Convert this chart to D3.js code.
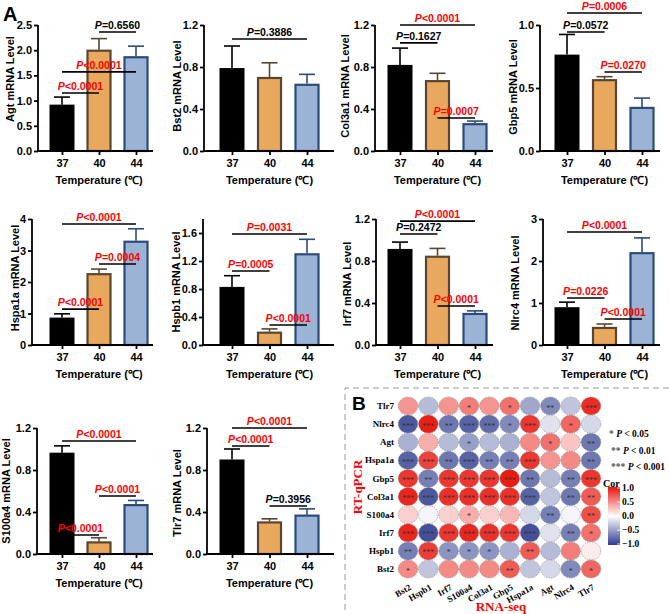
<!DOCTYPE html>
<html><head><meta charset="utf-8">
<script src="https://cdn.jsdelivr.net/npm/d3@7"></script>
<style>body{margin:0;background:#fff}svg{display:block}</style>
</head><body>
<svg id="c" width="669" height="614"></svg>
<script>
// ---------- DATA ----------
const temps = ["37", "40", "44"];
const genes = ["Agt","Bst2","Col3a1","Gbp5","Hspa1a","Hspb1","Irf7","Nlrc4","S100a4","Tlr7"];
const means = [
  [0.92, 2.01, 1.88],
  [0.79, 0.705, 0.64],
  [0.82, 0.675, 0.265],
  [0.765, 0.57, 0.35],
  [0.87, 2.28, 3.31],
  [0.83, 0.19, 1.31],
  [0.915, 0.85, 0.305],
  [0.9, 0.43, 2.21],
  [0.965, 0.12, 0.475],
  [0.9, 0.31, 0.375]
];
const errors = [
  [0.15, 0.22, 0.2],
  [0.21, 0.135, 0.09],
  [0.16, 0.065, 0.02],
  [0.16, 0.02, 0.07],
  [0.12, 0.13, 0.38],
  [0.16, 0.04, 0.2],
  [0.065, 0.07, 0.02],
  [0.12, 0.07, 0.34],
  [0.065, 0.035, 0.035],
  [0.1, 0.025, 0.055]
];
const yMax = [2.5, 1.2, 1.2, 1.0, 4, 1.8, 1.2, 3, 1.2, 1.2];
const yStep = [0.5, 0.4, 0.4, 0.5, 1, 0.4, 0.4, 1, 0.4, 0.4];
const yTickTop = [2.5, 1.2, 1.2, 1.0, 4, 1.6, 1.2, 3, 1.2, 1.2];
const yDecimals = [1, 1, 1, 1, 0, 1, 1, 0, 1, 1];
// comparisons: [from, to, text, significant, bracket height]
const comparisons = [
  [[1,2,"=0.6560",0,2.36],[0,2,"<0.0001",1,1.57],[0,1,"<0.0001",1,1.15]],
  [[0,2,"=0.3886",0,1.067]],
  [[0,2,"<0.0001",1,1.2],[0,1,"=0.1627",0,1.03],[1,2,"=0.0007",1,0.314]],
  [[0,2,"=0.0006",1,1.095],[0,1,"=0.0572",0,0.944],[1,2,"=0.0270",1,0.627]],
  [[0,2,"<0.0001",1,3.84],[1,2,"=0.0004",1,2.57],[0,1,"<0.0001",1,1.14]],
  [[0,2,"=0.0031",1,1.586],[0,1,"=0.0005",1,1.057],[1,2,"<0.0001",1,0.286]],
  [[0,2,"<0.0001",1,1.18],[0,1,"=0.2472",0,1.057],[1,2,"<0.0001",1,0.371]],
  [[0,2,"<0.0001",1,2.69],[0,1,"=0.0226",1,1.12],[1,2,"<0.0001",1,0.62]],
  [[0,2,"<0.0001",1,1.076],[1,2,"<0.0001",1,0.552],[0,1,"<0.0001",1,0.181]],
  [[0,2,"<0.0001",1,1.2],[0,1,"<0.0001",1,1.029],[1,2,"=0.3956",0,0.457]]
];

// Correlation matrix (panel B)
const rowGenes = ["Tlr7","Nlrc4","Agt","Hspa1a","Gbp5","Col3a1","S100a4","Irf7","Hspb1","Bst2"];
const colGenes = ["Bst2","Hspb1","Irf7","S100a4","Col3a1","Gbp5","Hspa1a","Agt","Nlrc4","Tlr7"];
const corr = [
  [0.45,-0.35,0.45,0.55,0.45,0.6,-0.45,-0.6,-0.3,0.9],
  [-0.85,0.95,-0.7,-0.8,-0.75,-0.6,0.85,-0.15,0.65,-0.2],
  [-0.4,0.35,-0.35,-0.5,-0.35,-0.4,0.5,0.6,0.25,-0.7],
  [-0.8,0.8,-0.7,-0.8,-0.65,-0.65,0.85,0.45,0.5,-0.7],
  [0.85,-0.65,0.85,0.85,0.85,0.97,-0.7,-0.35,-0.65,0.85],
  [0.92,-0.85,0.88,0.88,0.88,0.88,-0.8,-0.3,-0.7,0.7],
  [0.2,-0.05,0.2,0.35,0.2,0.3,-0.2,-0.65,-0.05,0.75],
  [0.92,-0.9,0.85,0.92,0.88,0.85,-0.9,-0.15,-0.65,0.6],
  [-0.65,0.82,-0.55,-0.55,-0.55,-0.4,0.7,-0.35,0.55,0.08],
  [0.5,-0.3,0.5,0.5,0.5,0.7,-0.3,-0.2,-0.6,0.65]
];
const stars = [
  ["","","","*","","*","","**","","***"],
  ["***","***","**","***","***","*","***","","*",""],
  ["","","","*","","","","*","","**"],
  ["***","***","**","***","**","**","***","","","**"],
  ["***","**","***","***","***","***","**","","**","***"],
  ["***","***","***","***","***","***","***","","**","**"],
  ["","","","*","","","","**","","**"],
  ["***","***","***","***","***","***","***","","**","*"],
  ["**","***","*","*","*","","**","","",""],
  ["*","","","","","**","","","*","*"]
];
const sigLegend = [["*","0.05"],["**","0.01"],["***","0.001"]];
const corTicks = [1.0, 0.5, 0.0, -0.5, -1.0];

// ---------- LAYOUT ----------
const svg = d3.select("#c");
const SANS = "'Liberation Sans', Arial, sans-serif";
const SERIF = "'Liberation Serif', 'Times New Roman', serif";
const axisXs = [38, 204, 375, 540, 32, 203, 376, 543, 37, 207];
const colCenters = [[62,136],[232,307],[400,475],[567,642]];
const colEnds = [153, 334, 493, 660];
const rowTop = [25, 219, 428];
const rowBase = [151, 345, 554];
const yLabelX = [10, 177, 345, 513, 15, 176, 347, 515, 6, 177];
const yLabelShift = [-9, -2, -2, -1, -4, 0, 2, 1, 0, 2];
const barFill = ["#000000", "#E8A85E", "#9BB4D6"];
const barStroke = ["#000000", "#5A4630", "#2B4B7C"];

svg.append("text").attr("x", 3).attr("y", 21).attr("font-family", SANS)
  .attr("font-weight", "bold").attr("font-size", 20).text("A");

genes.forEach((g, i) => {
  const col = i % 4, row = Math.floor(i / 4);
  const y0 = rowBase[row], yT = rowTop[row];
  const ax = axisXs[i];
  const x = d3.scalePoint().domain(temps).range(colCenters[col]);
  const y = d3.scaleLinear().domain([0, yMax[i]]).range([y0, yT]);
  const G = svg.append("g");

  temps.forEach((t, k) => {
    const cx = x(t), v = means[i][k], e = errors[i][k];
    G.append("line").attr("x1", cx).attr("x2", cx).attr("y1", y(v)).attr("y2", y(v + e))
      .attr("stroke", barStroke[k]).attr("stroke-width", 1.6);
    G.append("line").attr("x1", cx - 8).attr("x2", cx + 8).attr("y1", y(v + e)).attr("y2", y(v + e))
      .attr("stroke", barStroke[k]).attr("stroke-width", 1.6);
    if (k === 0) {
      G.append("rect").attr("x", cx - 12.5).attr("width", 25).attr("y", y(v)).attr("height", y0 - y(v))
        .attr("fill", barFill[k]);
    } else {
      G.append("rect").attr("x", cx - 11.5).attr("width", 23).attr("y", y(v) + 1).attr("height", Math.max(0, y0 - y(v) - 1))
        .attr("fill", barFill[k]).attr("stroke", barStroke[k]).attr("stroke-width", 2.2);
    }
  });

  const ticks = d3.range(0, yTickTop[i] + 1e-9, yStep[i]);
  const yAxis = d3.axisLeft(y).tickValues(ticks).tickSize(4).tickSizeOuter(0).tickPadding(2)
    .tickFormat(d3.format("." + yDecimals[i] + "f"));
  const ga = G.append("g").attr("transform", `translate(${ax},0)`).call(yAxis);
  ga.select(".domain").attr("stroke-width", 1.8).attr("d", `M0,${y0}V${yT}`);
  ga.selectAll(".tick line").attr("stroke-width", 1.8);
  ga.selectAll(".tick text").attr("font-family", SANS).attr("font-weight", "bold").attr("font-size", 11).attr("fill", "#000");

  const xAxis = d3.axisBottom(x).tickSize(4).tickSizeOuter(0).tickPadding(4);
  const gx = G.append("g").attr("transform", `translate(0,${y0})`).call(xAxis);
  gx.select(".domain").remove();
  gx.selectAll(".tick line").attr("stroke-width", 1.8);
  gx.selectAll(".tick text").attr("font-family", SANS).attr("font-weight", "bold").attr("font-size", 11).attr("fill", "#000");
  G.append("line").attr("x1", ax - 0.9).attr("x2", colEnds[col]).attr("y1", y0).attr("y2", y0)
    .attr("stroke", "#000").attr("stroke-width", 1.8);

  G.append("text").attr("x", (colCenters[col][0] + colCenters[col][1]) / 2).attr("y", y0 + 33)
    .attr("text-anchor", "middle").attr("font-family", SANS).attr("font-weight", "bold").attr("font-size", 11)
    .text("Temperature (\u2103)");
  G.append("text").attr("transform", `translate(${yLabelX[i]},${(y0 + yT) / 2 + yLabelShift[i]}) rotate(-90)`)
    .attr("text-anchor", "middle").attr("dy", "0.35em").attr("font-family", SANS).attr("font-weight", "bold")
    .attr("font-size", 11).text(g + " mRNA Level");

  comparisons[i].forEach(c => {
    const [a, b, txt, sig, h] = c;
    const x1 = x(temps[a]), x2 = x(temps[b]), yy = y(h);
    G.append("line").attr("x1", x1).attr("x2", x2).attr("y1", yy).attr("y2", yy)
      .attr("stroke", "#000").attr("stroke-width", 1.6);
    const t = G.append("text").attr("x", (x1 + x2) / 2).attr("y", yy - 3).attr("text-anchor", "middle")
      .attr("font-family", SANS).attr("font-weight", "bold").attr("font-size", 10.5)
      .attr("fill", sig ? "#FF0000" : "#000");
    t.append("tspan").attr("font-style", "italic").text("P");
    t.append("tspan").text(txt);
  });
});

// ---------- PANEL B ----------
const B = svg.append("g");
B.append("path").attr("d", "M345,620V388H669")
  .attr("fill", "none").attr("stroke", "#9a9a9a").attr("stroke-width", 1).attr("stroke-dasharray", "6,4");
B.append("text").attr("x", 352).attr("y", 410).attr("font-family", SANS).attr("font-weight", "bold")
  .attr("font-size", 19).text("B");

const cx = d3.scalePoint().domain(colGenes).range([408, 591]);
const cy = d3.scalePoint().domain(rowGenes).range([406, 569]);
const color = d3.scaleLinear().domain([-1, 0, 1]).range(["#2E3C8E", "#FFFFFF", "#E8140C"]).interpolate(d3.interpolateRgb);

rowGenes.forEach((rg, r) => {
  colGenes.forEach((cg, c) => {
    B.append("ellipse").attr("cx", cx(cg)).attr("cy", cy(rg)).attr("rx", 9.8).attr("ry", 9.0)
      .attr("fill", color(corr[r][c])).attr("stroke", "#808080").attr("stroke-width", 0.6)
      .attr("stroke-dasharray", "1.5,1");
    if (stars[r][c]) {
      B.append("text").attr("x", cx(cg)).attr("y", cy(rg) + 4.6).attr("text-anchor", "middle")
        .attr("font-family", SERIF).attr("font-size", 8).attr("fill", "#333").text(stars[r][c]);
    }
  });
  B.append("text").attr("x", 394).attr("y", cy(rg)).attr("dy", "0.35em").attr("text-anchor", "end")
    .attr("font-family", SERIF).attr("font-weight", "bold").attr("font-size", 9).text(rg);
});
colGenes.forEach(cg => {
  B.append("text").attr("transform", `translate(${cx(cg) + 4},${589}) rotate(-30)`).attr("text-anchor", "end")
    .attr("font-family", SERIF).attr("font-weight", "bold").attr("font-size", 9).text(cg);
});
B.append("text").attr("x", 501).attr("y", 611).attr("text-anchor", "middle").attr("font-family", SERIF)
  .attr("font-weight", "bold").attr("font-size", 13).attr("fill", "#FF0000").text("RNA-seq");
B.append("text").attr("transform", "translate(357,487) rotate(-90)").attr("dy", "0.35em").attr("text-anchor", "middle")
  .attr("font-family", SERIF).attr("font-weight", "bold").attr("font-size", 13).attr("fill", "#FF0000").text("RT-qPCR");

sigLegend.forEach((s, k) => {
  const t = B.append("text").attr("x", 609 + (k === 0 ? 0 : 2)).attr("y", 437 + k * 16.5)
    .attr("font-family", SERIF).attr("font-weight", "bold").attr("font-size", 9.5);
  t.append("tspan").attr("fill", "#555").text(s[0] + " ");
  t.append("tspan").attr("font-style", "italic").text("P");
  t.append("tspan").text(" < " + s[1]);
});

const cbY = d3.scaleLinear().domain([1, -1]).range([488, 544]);
const defs = svg.append("defs");
const grad = defs.append("linearGradient").attr("id", "cg").attr("x1", 0).attr("x2", 0).attr("y1", 0).attr("y2", 1);
d3.range(0, 1.0001, 0.1).forEach(o => {
  grad.append("stop").attr("offset", o).attr("stop-color", color(1 - 2 * o));
});
B.append("rect").attr("x", 608).attr("y", cbY(1) - 1).attr("width", 12).attr("height", cbY(-1) - cbY(1) + 2).attr("fill", "url(#cg)");
B.append("text").attr("x", 603).attr("y", 487).attr("font-family", SERIF).attr("font-weight", "bold").attr("font-size", 10).text("Cor");
corTicks.forEach(v => {
  B.append("line").attr("x1", 617).attr("x2", 620).attr("y1", cbY(v)).attr("y2", cbY(v)).attr("stroke", "#fff").attr("stroke-width", 0.8);
  B.append("text").attr("x", 622).attr("y", cbY(v)).attr("dy", "0.35em").attr("font-family", SERIF)
    .attr("font-weight", "bold").attr("font-size", 9.5).text(d3.format(".1f")(v).replace("-", "\u2212"));
});
</script>
</body></html>
